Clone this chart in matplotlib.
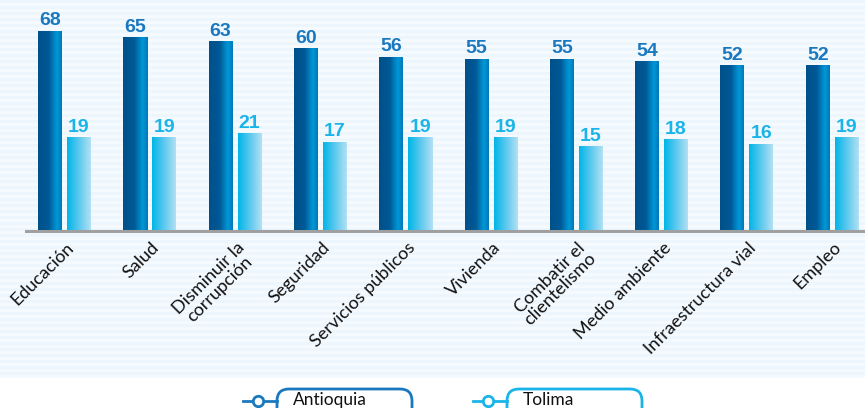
import numpy as np
import matplotlib
matplotlib.use("Agg")
import matplotlib.pyplot as plt
from matplotlib.colors import LinearSegmentedColormap
from matplotlib.patches import FancyBboxPatch
from matplotlib.lines import Line2D
from matplotlib.transforms import IdentityTransform, ScaledTranslation

categorias = ["Educación", "Salud", "Disminuir la\ncorrupción", "Seguridad",
              "Servicios públicos", "Vivienda", "Combatir el\nclientelismo",
              "Medio ambiente", "Infraestructura vial", "Empleo"]
antioquia = [68, 65, 63, 60, 56, 55, 55, 54, 52, 52]
tolima = [19, 19, 21, 17, 19, 19, 15, 18, 16, 19]
series = ["Antioquia", "Tolima"]

c_ant = "#1a78bf"
c_tol = "#1ab4e8"
cmap_ant = LinearSegmentedColormap.from_list(
    "ant", [(0, "#00508a"), (0.45, "#005a96"), (0.8, "#0098d8"), (1, "#0078b8")])
cmap_tol = LinearSegmentedColormap.from_list(
    "tol", [(0, "#00b6e8"), (0.5, "#5cc8ee"), (1, "#b2e0f4")])

W, H = 865, 408
fig = plt.figure(figsize=(W / 100, H / 100), dpi=100)
fig.patch.set_facecolor("white")

# striped light-blue background
bg = fig.add_axes([0, 30 / H, 1, 378 / H])
stripes = np.array([[0], [1]] * 63, dtype=float)
bg.imshow(stripes, cmap=LinearSegmentedColormap.from_list("bg", ["#eef6fd", "#f5fafe"]),
          aspect="auto", interpolation="nearest")
bg.axis("off")

ymin, ymax = -24, 82
ax = fig.add_axes([26 / W, (H - 231) / H, (W - 26) / W, 231 / H])
ax.patch.set_alpha(0)
x = np.arange(len(categorias))
px = 85.3
bw = 24 / px
off = 14.5 / px

grad = np.linspace(0, 1, 64).reshape(1, -1)
for vals, sgn, cmap, col in [(antioquia, -1, cmap_ant, c_ant), (tolima, 1, cmap_tol, c_tol)]:
    bars = ax.bar(x + sgn * off, np.array(vals) - ymin, bottom=ymin, width=bw,
                  color="none", edgecolor="none", zorder=2)
    for b, v in zip(bars, vals):
        x0, y0 = b.get_x(), b.get_y()
        im = ax.imshow(grad, cmap=cmap, aspect="auto", extent=[x0, x0 + b.get_width(), y0, y0 + b.get_height()],
                       zorder=2)
        im.set_clip_path(b)
        ax.annotate(str(v), (b.get_x() + b.get_width() / 2, v), xytext=(0, 1),
                    textcoords="offset points", ha="center", va="bottom",
                    fontsize=14, fontweight="bold", color=col, family="Liberation Sans")

ax.set_xlim(-38.5 / px, (W - 26 - 38.5) / px)
ax.set_ylim(ymin, ymax)
for s in ["top", "right", "left"]:
    ax.spines[s].set_visible(False)
ax.spines["bottom"].set_color("#a0a0a0")
ax.spines["bottom"].set_linewidth(2.2)
ax.set_yticks([])
ax.set_xticks(x)
ax.set_xticklabels(categorias, rotation=45, ha="right", rotation_mode="anchor",
                   fontsize=13, family="Lato", color="#111111", multialignment="center",
                   linespacing=0.95)
ax.tick_params(axis="x", length=0, pad=6)
for lab in ax.get_xticklabels():
    lab.set_transform(lab.get_transform() + ScaledTranslation(1 / 100, 0, fig.dpi_scale_trans))

# legend at bottom
ident = IdentityTransform()
for name, col, lx in [(series[0], c_ant, 243), (series[1], c_tol, 473)]:
    fig.add_artist(Line2D([lx, lx + 34], [7, 7], color=col, lw=2, marker=None, transform=ident))
    fig.add_artist(Line2D([lx + 15], [7], color=col, marker="o", markersize=7.5, mew=2,
                          mfc="white", transform=ident))
    fig.add_artist(FancyBboxPatch((lx + 34, -16), 135, 35,
                                  boxstyle="round,pad=0,rounding_size=12",
                                  fc="none", ec=col, lw=2, transform=ident))
    fig.text((lx + 50) / W, 8 / H, name, fontsize=12.5, family="Lato", color="#111111",
             ha="left", va="center")

fig.savefig("out.png", dpi=100)
